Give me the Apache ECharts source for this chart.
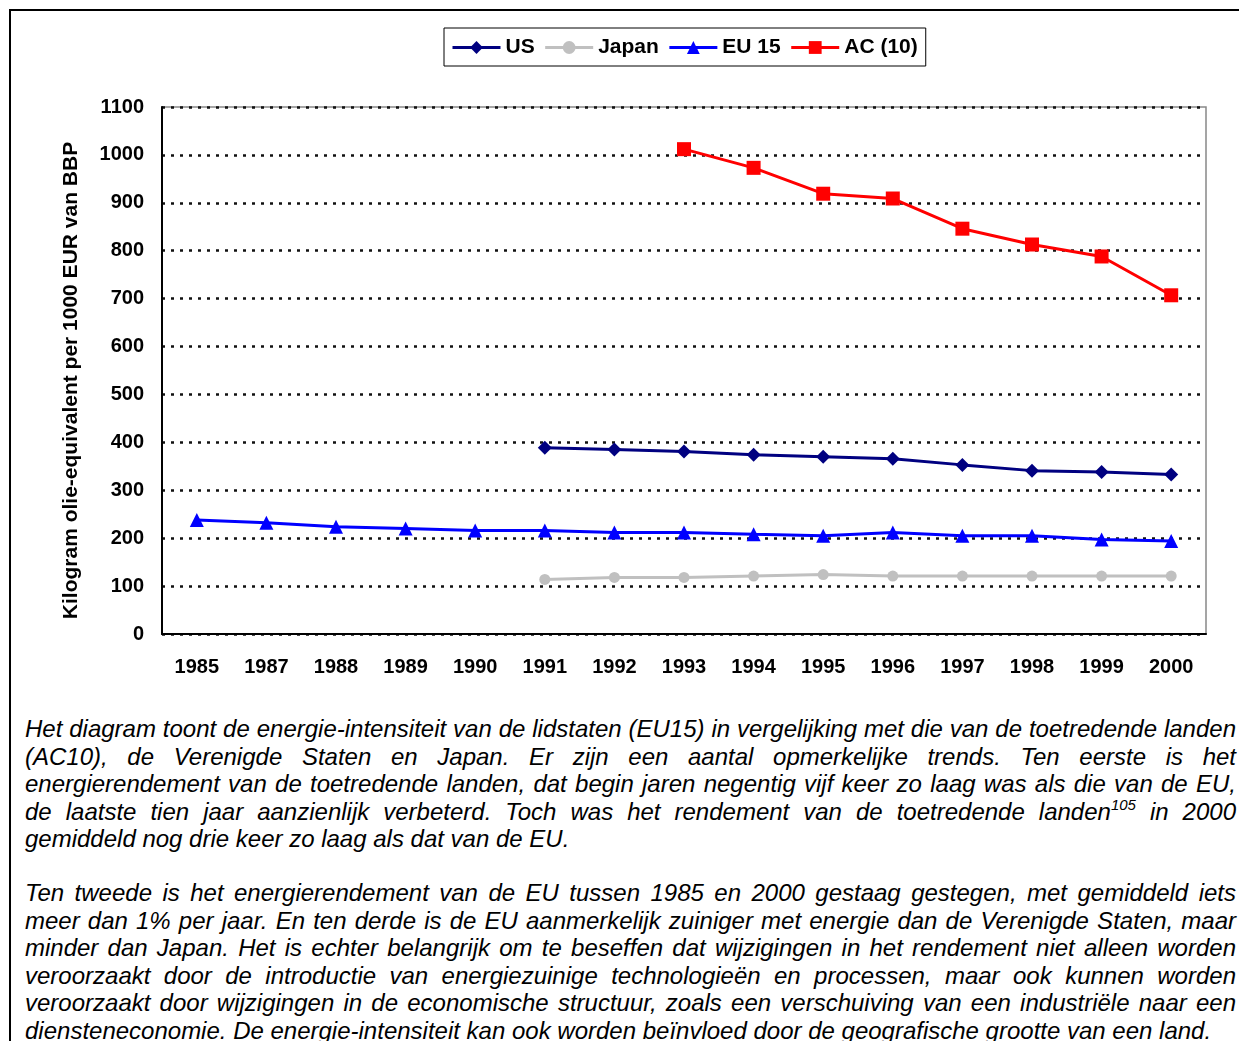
<!DOCTYPE html>
<html>
<head>
<meta charset="utf-8">
<script src="https://cdn.jsdelivr.net/npm/echarts@6/dist/echarts.min.js"></script>
<style>
  html, body { margin: 0; padding: 0; background: #fff; }
  body { width: 1239px; height: 1041px; position: relative; overflow: hidden; font-family: "Liberation Sans", Arial, sans-serif; }
  #frame { position: absolute; left: 9px; top: 9px; width: 1300px; height: 1100px; border-left: 2px solid #000; border-top: 2px solid #000; }
  #chart { position: absolute; left: 0; top: 0; width: 1239px; height: 700px; }
  .para { position: absolute; left: 25px; width: 1211px; font-style: italic; font-size: 24px; line-height: 27.6px; color: #000; }
  .para div { text-align: justify; text-align-last: justify; white-space: normal; }
  .para div.last { text-align: left; text-align-last: left; white-space: nowrap; }
  sup { font-size: 15px; line-height: 0; vertical-align: 10px; }
</style>
</head>
<body>
<div id="frame"></div>
<div id="chart"></div>
<div class="para" style="top:715px">
  <div>Het diagram toont de energie-intensiteit van de lidstaten (EU15) in vergelijking met die van de toetredende landen</div>
  <div>(AC10), de Verenigde Staten en Japan. Er zijn een aantal opmerkelijke trends. Ten eerste is het</div>
  <div>energierendement van de toetredende landen, dat begin jaren negentig vijf keer zo laag was als die van de EU,</div>
  <div>de laatste tien jaar aanzienlijk verbeterd. Toch was het rendement van de toetredende landen<sup>105</sup> in 2000</div>
  <div class="last">gemiddeld nog drie keer zo laag als dat van de EU.</div>
</div>
<div class="para" style="top:879px">
  <div>Ten tweede is het energierendement van de EU tussen 1985 en 2000 gestaag gestegen, met gemiddeld iets</div>
  <div>meer dan 1% per jaar. En ten derde is de EU aanmerkelijk zuiniger met energie dan de Verenigde Staten, maar</div>
  <div>minder dan Japan. Het is echter belangrijk om te beseffen dat wijzigingen in het rendement niet alleen worden</div>
  <div>veroorzaakt door de introductie van energiezuinige technologieën en processen, maar ook kunnen worden</div>
  <div>veroorzaakt door wijzigingen in de economische structuur, zoals een verschuiving van een industriële naar een</div>
  <div class="last">diensteneconomie. De energie-intensiteit kan ook worden beïnvloed door de geografische grootte van een land.</div>
</div>
<script>
const years = ['1985','1987','1988','1989','1990','1991','1992','1993','1994','1995','1996','1997','1998','1999','2000'];
const us    = [null, null, null, null, null, 389, 385, 381, 374, 370, 366, 353, 341, 338, 333];
const japan = [null, null, null, null, null, 114, 118, 118, 121, 124, 121, 121, 121, 121, 121];
const eu15  = [238, 232, 224, 220, 216, 216, 212, 212, 208, 205, 212, 205, 205, 197, 194];
const ac10  = [null, null, null, null, null, null, null, 1012, 973, 919, 909, 846, 813, 788, 707];
const seriesNames = ['US', 'Japan', 'EU 15', 'AC (10)'];
const yTicks = { min: 0, max: 1100, interval: 100 };
const yName = 'Kilogram olie-equivalent per 1000 EUR van BBP';

const FONT = '"Liberation Sans", Arial, sans-serif';
const chart = echarts.init(document.getElementById('chart'));
chart.setOption({
  animation: false,
  backgroundColor: 'transparent',
  legend: {
    top: 28, left: 444,
    itemWidth: 48, itemHeight: 16, itemGap: 9,
    padding: [9, 8, 8, 7],
    borderColor: '#000', borderWidth: 1,
    lineStyle: { width: 3 },
    textStyle: { fontFamily: FONT, fontWeight: 'bold', fontSize: 21, color: '#000' },
    data: seriesNames
  },
  grid: { left: 162, right: 33, top: 107, bottom: 66, show: true, borderColor: '#888', borderWidth: 1.5, containLabel: false },
  xAxis: {
    type: 'category', data: years, boundaryGap: true,
    axisLine: { show: true, lineStyle: { color: '#000', width: 2 } },
    axisTick: { show: false },
    axisLabel: { color: '#000', fontFamily: FONT, fontWeight: 'bold', fontSize: 20, margin: 23, interval: 0 },
    splitLine: { show: false }
  },
  yAxis: {
    type: 'value', min: yTicks.min, max: yTicks.max, interval: yTicks.interval,
    name: yName, nameLocation: 'middle', nameGap: 80,
    nameTextStyle: { color: '#000', fontFamily: FONT, fontWeight: 'bold', fontSize: 21, padding: [0, 20, 0, 0] },
    axisLine: { show: true, lineStyle: { color: '#000', width: 2 } },
    axisTick: { show: false },
    axisLabel: { color: '#000', fontFamily: FONT, fontWeight: 'bold', fontSize: 20, margin: 18, formatter: function (v) { return String(v); } },
    splitLine: { show: true, lineStyle: { color: '#111', width: 2.5, type: [3, 6] } }
  },
  series: [
    { name: seriesNames[0], type: 'line', data: us, symbol: 'diamond', symbolSize: 14,
      lineStyle: { color: '#000080', width: 3 }, itemStyle: { color: '#000080' } },
    { name: seriesNames[1], type: 'line', data: japan, symbol: 'circle', symbolSize: 11,
      lineStyle: { color: '#C0C0C0', width: 3 }, itemStyle: { color: '#C0C0C0' } },
    { name: seriesNames[2], type: 'line', data: eu15, symbol: 'triangle', symbolSize: 14,
      lineStyle: { color: '#0000FF', width: 3 }, itemStyle: { color: '#0000FF' } },
    { name: seriesNames[3], type: 'line', data: ac10, symbol: 'rect', symbolSize: 14,
      lineStyle: { color: '#FF0000', width: 3 }, itemStyle: { color: '#FF0000' } }
  ]
});
</script>
</body>
</html>
